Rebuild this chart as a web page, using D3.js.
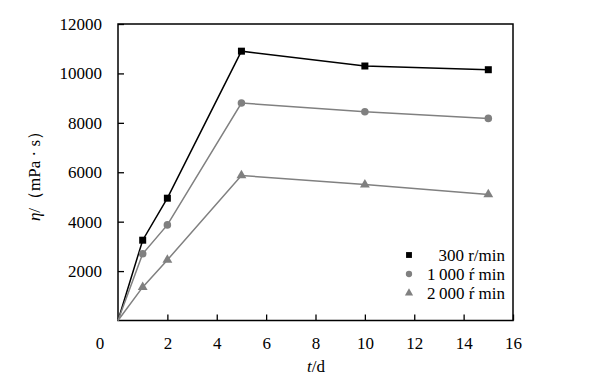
<!DOCTYPE html>
<html><head><meta charset="utf-8">
<script src="https://cdn.jsdelivr.net/npm/d3@7"></script>
<style>body{margin:0;background:#fff}svg{display:block}svg text{font-family:"Liberation Serif",serif !important;fill:#000}</style>
</head><body><svg id="c" width="593" height="384" font-family="Liberation Serif"></svg>
<script>
const days = [0, 1, 2, 5, 10, 15];
const s300 = [0, 3250, 4950, 10900, 10300, 10150];
const s1000 = [0, 2700, 3870, 8800, 8450, 8180];
const s2000 = [0, 1350, 2450, 5870, 5500, 5100];
const seriesNames = ["300 r/min", "1\u2009000 \u0155 min", "2\u2009000 \u0155 min"];
const xTicks = [2, 4, 6, 8, 10, 12, 14, 16];
const yTicks = [2000, 4000, 6000, 8000, 10000, 12000];

const FONT = "Liberation Serif";
const svg = d3.select("#c");
const L = 118, R = 513, T = 24, B = 320.5;
const x = d3.scaleLinear().domain([0, 16]).range([L, R]);
const y = d3.scaleLinear().domain([0, 12000]).range([B, T]);

const series = [
  {name: seriesNames[0], vals: s300, color: "#000", mcolor: "#000", sym: d3.symbolSquare, size: 49},
  {name: seriesNames[1], vals: s1000, color: "#808080", mcolor: "#808080", sym: d3.symbolCircle, size: 45},
  {name: seriesNames[2], vals: s2000, color: "#808080", mcolor: "#808080", sym: d3.symbolTriangle, size: 42}
];

svg.append("rect").attr("x", L).attr("y", T).attr("width", R - L).attr("height", B - T)
  .attr("fill", "none").attr("stroke", "#000").attr("stroke-width", 1.5);

const xa = svg.append("g").attr("transform", `translate(0,${B})`)
  .call(d3.axisBottom(x).tickValues(xTicks).tickFormat(d3.format("d")).tickSizeInner(-6).tickSizeOuter(0).tickPadding(16));
xa.attr("font-family", FONT).attr("font-size", 17);
xa.select(".domain").remove();
xa.selectAll("line").attr("stroke-width", 1.3);
svg.append("text").attr("x", 100).attr("y", B + 28).attr("text-anchor", "middle")
  .attr("font-family", FONT).attr("font-size", 17).text("0");

const ya = svg.append("g").attr("transform", `translate(${L},0)`)
  .call(d3.axisLeft(y).tickValues(yTicks).tickFormat(d3.format("d")).tickSizeInner(-6).tickSizeOuter(0).tickPadding(16));
ya.attr("font-family", FONT).attr("font-size", 17);
ya.select(".domain").remove();
ya.selectAll("line").attr("stroke-width", 1.3);

const xt = svg.append("text").attr("x", 316).attr("y", 372).attr("text-anchor", "middle")
  .attr("font-family", FONT).attr("font-size", 17);
xt.append("tspan").style("font-style", "italic").text("t");
xt.append("tspan").text("/d");

const yt = svg.append("text").attr("transform", "translate(40,172) rotate(-90)").attr("text-anchor", "middle")
  .attr("font-family", FONT).attr("font-size", 17);
yt.append("tspan").style("font-style", "italic").text("η");
yt.append("tspan").text("/（mPa · s）");

const line = d3.line().x((d, i) => x(days[i])).y(d => y(d));
series.forEach(s => {
  svg.append("path").datum(s.vals).attr("d", line).attr("fill", "none")
    .attr("stroke", s.color).attr("stroke-width", 1.5);
  svg.selectAll(null).data(s.vals.slice(1)).enter().append("path")
    .attr("d", d3.symbol().type(s.sym).size(s.size))
    .attr("transform", (d, i) => `translate(${x(days[i + 1])},${y(d)})`)
    .attr("fill", s.mcolor);
});

const lg = svg.append("g");
series.forEach((s, i) => {
  const yy = 255 + i * 19;
  lg.append("path").attr("d", d3.symbol().type(s.sym).size(s.size * 0.7))
    .attr("transform", `translate(409,${yy})`).attr("fill", s.mcolor);
  lg.append("text").attr("x", 505).attr("y", yy + 5.5).attr("text-anchor", "end")
    .attr("font-family", FONT).attr("font-size", 17).text(s.name);
});
</script></body></html>
